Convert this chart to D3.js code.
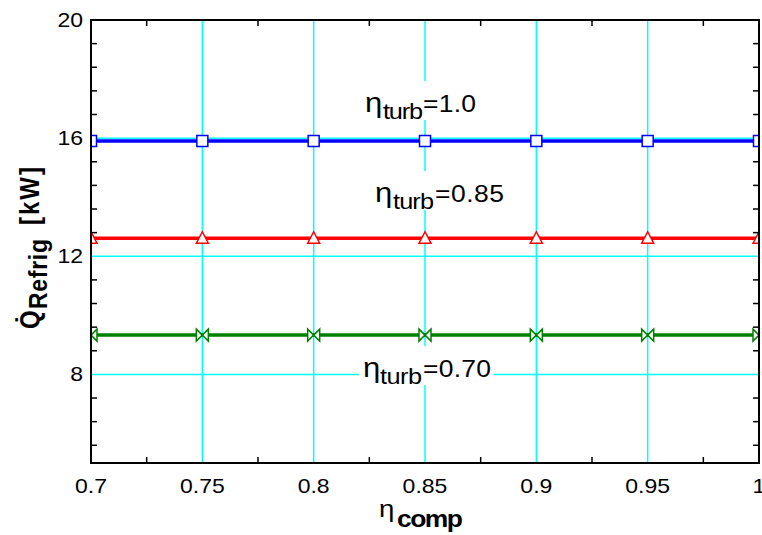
<!DOCTYPE html>
<html>
<head>
<meta charset="utf-8">
<script src="https://cdn.jsdelivr.net/npm/d3@7"></script>
<style>
  html, body { margin: 0; padding: 0; background: #fff; }
  svg { display: block; font-family: "Liberation Sans", Arial, sans-serif; }
</style>
</head>
<body>
<svg id="chart" width="762" height="535"></svg>
<script>
// ---------------- data ----------------
const etaComp = [0.70, 0.75, 0.80, 0.85, 0.90, 0.95, 1.00];
const qTurb100 = [15.9, 15.9, 15.9, 15.9, 15.9, 15.9, 15.9];
const qTurb085 = [12.61, 12.61, 12.61, 12.61, 12.61, 12.61, 12.61];
const qTurb070 = [9.33, 9.33, 9.33, 9.33, 9.33, 9.33, 9.33];
const seriesLabels = ["=1.0", "=0.85", "=0.70"];
const xTicks = [0.7, 0.75, 0.8, 0.85, 0.9, 0.95, 1.0];
const xTickLabels = ["0.7", "0.75", "0.8", "0.85", "0.9", "0.95", "1"];
const xMinorTicks = [0.725, 0.775, 0.825, 0.875, 0.925, 0.975];
const yTicks = [8, 12, 16, 20];
const yTickLabels = ["8", "12", "16", "20"];
const yMinorTicks = [5.6, 6.4, 7.2, 8.8, 9.6, 10.4, 11.2, 12.8, 13.6, 14.4, 15.2, 16.8, 17.6, 18.4, 19.2];

// ---------------- layout ----------------
const L = 91, R = 759, T = 20, B = 463;
const sx = 1.15;
const x = d3.scaleLinear().domain([0.7, 1.0]).range([L, R]);
const y = d3.scaleLinear().domain([5, 20]).range([B, T]);
const svg = d3.select("#chart");

svg.append("defs").append("clipPath").attr("id", "plotclip")
  .append("rect").attr("x", L).attr("y", T).attr("width", R - L).attr("height", B - T);

// gridlines
const grid = svg.append("g");
grid.selectAll("line.gx").data(xTicks.filter(d => d > 0.7 && d < 1.0)).join("line")
  .attr("x1", d => x(d)).attr("x2", d => x(d)).attr("y1", T).attr("y2", B)
  .attr("stroke", "#00ffff").attr("stroke-width", 1.5);
grid.selectAll("line.gy").data(yTicks.filter(d => d < 20)).join("line")
  .attr("y1", d => y(d)).attr("y2", d => y(d)).attr("x1", L).attr("x2", R)
  .attr("stroke", "#00ffff").attr("stroke-width", 1.5);

// rich text helper
function rich(parent, opt) {
  const tr = opt.rotate
    ? `translate(${opt.x},${opt.y}) scale(${sx},1) rotate(-90)`
    : `translate(${opt.x},${opt.y}) scale(${sx},1)`;
  const g = parent.append("g").attr("transform", tr);
  opt.parts.forEach(p => {
    const t = g.append("text")
      .attr("x", opt.rotate ? p.dx : p.dx / sx)
      .attr("y", opt.rotate ? p.dy / sx : p.dy)
      .attr("font-size", p.size)
      .attr("font-weight", p.weight || "normal")
      .attr("fill", "#000")
      .text(p.text);
    if (p.len) t.attr("textLength", opt.rotate ? p.len : p.len / sx).attr("lengthAdjust", "spacing");
  });
  return g;
}

// annotation labels with white boxes
const ann = [
  { x: 365, y: 112, turbDx: 18, turbLen: 40, valDx: 58, valLen: 53, label: seriesLabels[0] },
  { x: 375, y: 202, turbDx: 18, turbLen: 41, valDx: 60, valLen: 69, label: seriesLabels[1] },
  { x: 363, y: 377, turbDx: 17, turbLen: 42, valDx: 60, valLen: 68, label: seriesLabels[2] }
];
const annG = svg.append("g");
ann.forEach(a => {
  annG.append("rect")
    .attr("x", a.x - 4).attr("y", a.y - 31)
    .attr("width", a.valDx + a.valLen + 7).attr("height", 39)
    .attr("fill", "#fff");
});

// series
const series = [
  { vals: qTurb100, color: "#0000ff", marker: "square" },
  { vals: qTurb085, color: "#ff0000", marker: "triangle" },
  { vals: qTurb070, color: "#008000", marker: "bowtie" }
];
const plot = svg.append("g").attr("clip-path", "url(#plotclip)");
const line = d3.line().x(d => x(d[0])).y(d => y(d[1]));
series.forEach(s => {
  const pts = etaComp.map((e, i) => [e, s.vals[i]]);
  plot.append("path").datum(pts).attr("d", line)
    .attr("fill", "none").attr("stroke", s.color).attr("stroke-width", 3.5);
});
const markerPath = {
  square: "M-5.5,-5.5H5.5V5.5H-5.5Z",
  triangle: "M0,-6.5L6,5L-6,5Z",
  bowtie: "M-6,-6L0,0L-6,6ZM6,-6L0,0L6,6Z"
};
series.forEach(s => {
  plot.selectAll(null).data(etaComp.map((e, i) => [e, s.vals[i]])).join("path")
    .attr("transform", d => `translate(${x(d[0])},${y(d[1])})`)
    .attr("d", markerPath[s.marker])
    .attr("fill", "#fff").attr("stroke", s.color).attr("stroke-width", 1.5);
});

// annotation text
ann.forEach(a => {
  rich(svg, {
    x: a.x, y: a.y, parts: [
      { text: "η", dx: 0, dy: 0, size: 27 },
      { text: "turb", dx: a.turbDx, dy: 6.5, size: 22, len: a.turbLen },
      { text: a.label, dx: a.valDx, dy: 0, size: 23, len: a.valLen }
    ]
  });
});

// frame
svg.append("rect").attr("x", L).attr("y", T).attr("width", R - L).attr("height", B - T)
  .attr("fill", "none").attr("stroke", "#000").attr("stroke-width", 2);

// minor ticks
const tk = svg.append("g").attr("stroke", "#000").attr("stroke-width", 1.5);
xMinorTicks.forEach(d => {
  tk.append("line").attr("x1", x(d)).attr("x2", x(d)).attr("y1", B).attr("y2", B - 6);
  tk.append("line").attr("x1", x(d)).attr("x2", x(d)).attr("y1", T).attr("y2", T + 6);
});
yMinorTicks.forEach(d => {
  tk.append("line").attr("x1", L).attr("x2", L + 6).attr("y1", y(d)).attr("y2", y(d));
  tk.append("line").attr("x1", R).attr("x2", R - 6).attr("y1", y(d)).attr("y2", y(d));
});

// tick labels
xTicks.forEach((d, i) => {
  svg.append("text").attr("transform", `translate(${x(d)},493) scale(${sx},1)`)
    .attr("text-anchor", "middle").attr("font-size", 20).text(xTickLabels[i]);
});
yTicks.forEach((d, i) => {
  svg.append("text").attr("transform", `translate(83,${y(d) + 6.5}) scale(${sx},1)`)
    .attr("text-anchor", "end").attr("font-size", 20).text(yTickLabels[i]);
});

// axis titles
rich(svg, {
  x: 379, y: 517, parts: [
    { text: "η", dx: 0, dy: 0, size: 24 },
    { text: "comp", dx: 18, dy: 10, size: 23, weight: "bold", len: 66 }
  ]
});
rich(svg, {
  x: 39, y: 329, rotate: true, parts: [
    { text: "Q\u0307", dx: 0, dy: 0, size: 24, weight: "bold" },
    { text: "Refrig", dx: 20, dy: 8, size: 23, weight: "bold", len: 70 },
    { text: "[kW]", dx: 104, dy: 0, size: 24, weight: "bold", len: 58 }
  ]
});
</script>
</body>
</html>
